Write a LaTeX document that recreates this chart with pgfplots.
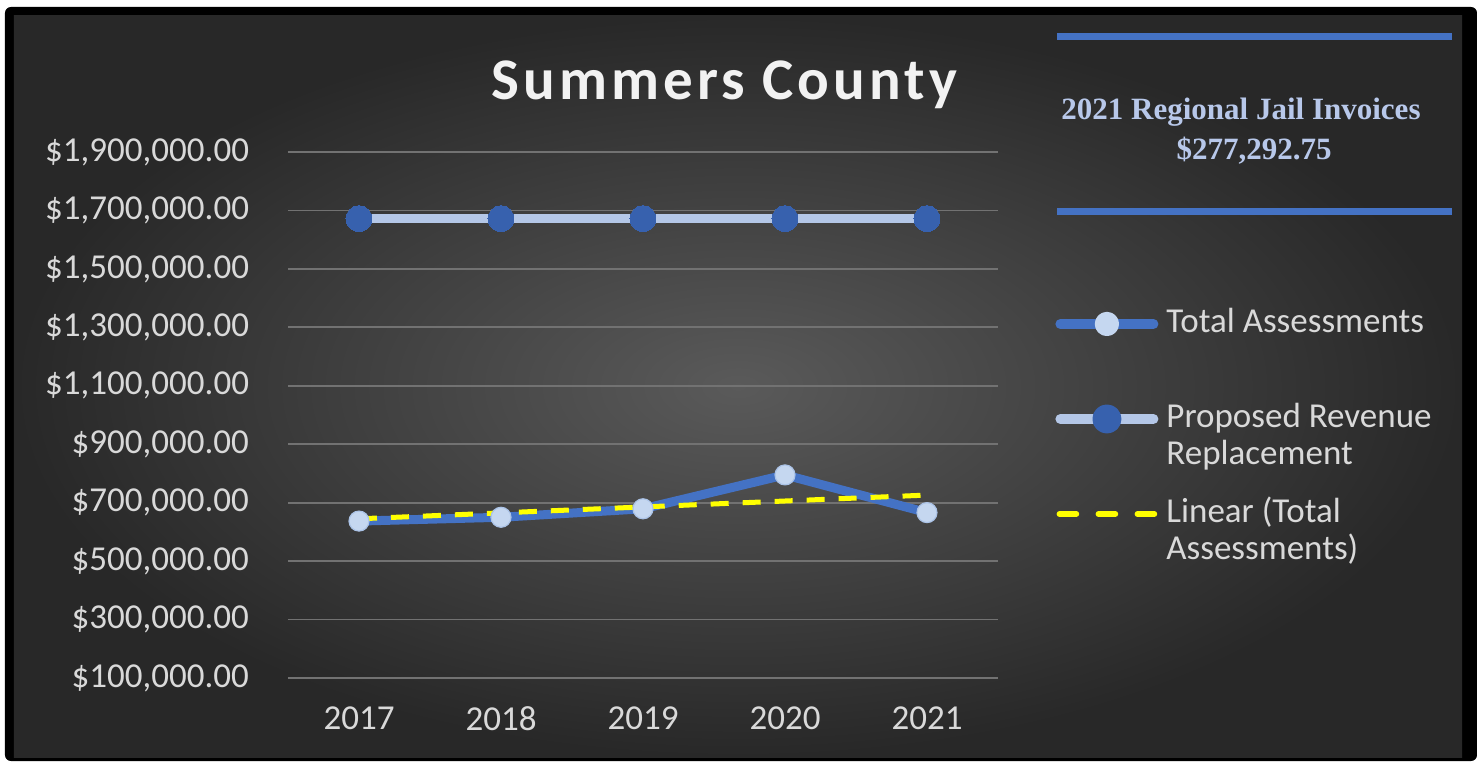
\documentclass[border=0pt]{standalone}
\usepackage{pgfplots}
\pgfplotsset{compat=1.18}
\usepackage{fontspec}
\setmainfont{Carlito}
\newfontfamily\titlefont{Carlito}[LetterSpace=7]
\newfontfamily\serifb{Liberation Serif}
\definecolor{bgin}{HTML}{5A5A5A}
\definecolor{bgout}{HTML}{282828}
\definecolor{gridc}{HTML}{727272}
\definecolor{lab}{HTML}{D9D9D9}
\definecolor{tblue}{HTML}{4472C4}
\definecolor{tmark}{HTML}{C5D7F0}
\definecolor{plight}{HTML}{B4C7E7}
\definecolor{pdark}{HTML}{3761AE}
\definecolor{trendc}{HTML}{FFFF00}
\definecolor{jailc}{HTML}{B8C8EA}
\begin{document}
\begin{tikzpicture}
% frame and background
\fill[white] (-144pt,-41.5pt) rectangle (594.5pt,339pt);
\fill[black,rounded corners=3pt] (-141.5pt,-41.5pt) rectangle (594.5pt,335.5pt);
\shade[inner color=bgin,outer color=bgout] (-137pt,-39.5pt) rectangle (587pt,331pt);
% title
\node[anchor=base,text=white!95!black,font=\titlefont\bfseries\fontsize{29.5pt}{32pt}\selectfont] at (218.25pt,289pt) {Summers County};
% side box
\fill[tblue] (384.5pt,319pt) rectangle (582pt,322.5pt);
\fill[tblue] (384.5pt,231.5pt) rectangle (582pt,235pt);
\node[anchor=base,text=jailc,font=\serifb\bfseries\fontsize{15.5pt}{18pt}\selectfont] at (476.5pt,279pt) {2021 Regional Jail Invoices};
\node[anchor=base,text=jailc,font=\serifb\bfseries\fontsize{15.5pt}{18pt}\selectfont] at (483pt,259pt) {\$277,292.75};
\begin{axis}[
  at={(0pt,0pt)}, anchor=south west,
  scale only axis, width=355pt, height=263pt,
  xmin=-0.5, xmax=4.5, ymin=100000, ymax=1900000,
  scaled y ticks=false,
  xtick={0,1,2,3,4}, xticklabels={2017,2018,2019,2020,2021},
  ytick={100000,300000,500000,700000,900000,1100000,1300000,1500000,1700000,1900000},
  yticklabels={{\$100,000.00},{\$300,000.00},{\$500,000.00},{\$700,000.00},{\$900,000.00},{\$1,100,000.00},{\$1,300,000.00},{\$1,500,000.00},{\$1,700,000.00},{\$1,900,000.00}},
  axis line style={draw=none},
  major tick length=0pt,
  ymajorgrids,
  grid style={gridc,line width=0.9pt},
  ticklabel style={text=lab,font=\fontsize{17.5pt}{20pt}\selectfont},
  yticklabel style={xshift=-16pt},
  xticklabel style={yshift=-11pt},
  clip=false,
  legend style={at={(1.0803,0.7033)},anchor=north west,draw=none,fill=none,inner sep=0pt,
    nodes={inner sep=0pt,text height=12pt,text depth=35.5pt,text=lab,font=\fontsize{17.5pt}{18.5pt}\selectfont},
    /tikz/column sep=4pt,/tikz/row sep=0pt},
  legend cell align=left,
]
\addplot[tblue,line width=4.5pt,line join=round,mark=*,mark size=5pt,
  mark options={fill=tmark,draw=tmark!80!tblue,line width=0.6pt,solid},
  legend image code/.code={
    \draw[tblue,line width=5pt,line cap=round] (2.5pt,16pt) -- (49pt,16pt);
    \fill[tmark] (25.75pt,16pt) circle (3.8pt);}]
  coordinates {(0,637000) (1,650000) (2,679000) (3,795000) (4,666000)};
\addlegendentry{Total Assessments}
\addplot[plight,line width=4.5pt,line join=round,mark=*,mark size=6.5pt,
  mark options={fill=pdark,draw=pdark,line width=0pt,solid},
  legend image code/.code={
    \draw[plight,line width=5pt,line cap=round] (2.5pt,16pt) -- (49pt,16pt);
    \fill[pdark] (25.75pt,16pt) circle (5pt);}]
  coordinates {(0,1672000) (1,1672000) (2,1672000) (3,1672000) (4,1672000)};
\addlegendentry{\begin{tabular}[t]{@{}l@{}}Proposed Revenue\\Replacement\end{tabular}}
\addplot[trendc,line width=2.5pt,dash pattern=on 9pt off 7pt,mark=none,
  legend image code/.code={
    \draw[trendc,line width=2.8pt,line cap=round,dash pattern=on 8.5pt off 11pt] (2pt,16pt) -- (49.5pt,16pt);}]
  coordinates {(0,644800) (1,665100) (2,685400) (3,705700) (4,726000)};
\addlegendentry{\begin{tabular}[t]{@{}l@{}}Linear (Total\\Assessments)\end{tabular}}
\end{axis}
\end{tikzpicture}
\end{document}
